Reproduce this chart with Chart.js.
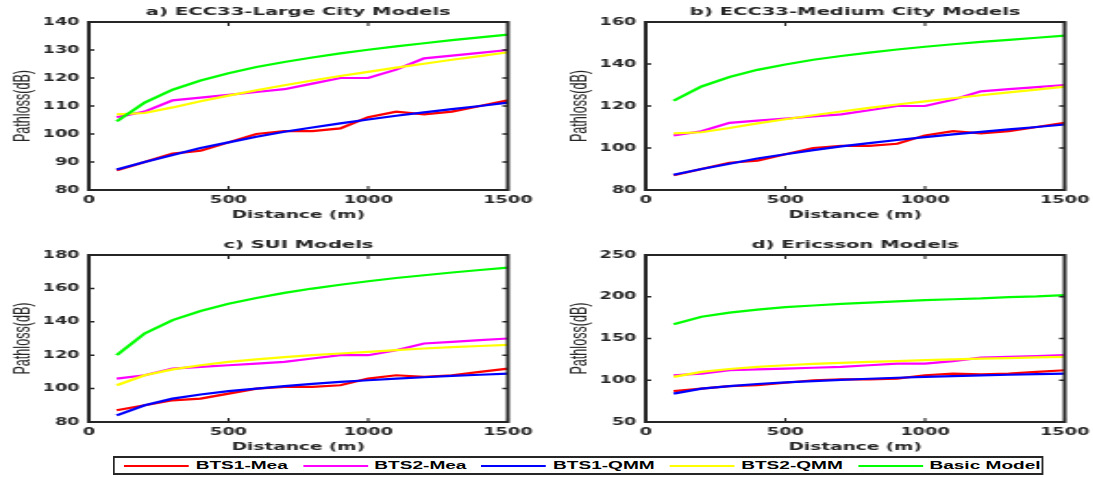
<!DOCTYPE html>
<html>
<head>
<meta charset="utf-8">
<script src="https://cdn.jsdelivr.net/npm/chart.js@4"></script>
<style>
    html, body { margin: 0; padding: 0; background: #fff; overflow: hidden; }
    /* the original figure is stretched sideways, so draw narrow and stretch it */
    #stage { position: absolute; left: 0; top: 0; width: 591px; height: 477px;
             transform: scaleX(1.85); transform-origin: 0 0; }
    #stage canvas { position: absolute; }
    #c0 { left: 0; top: 0; }
    #c1 { left: 300.6px; top: 0; }
    #c2 { left: 0; top: 233px; }
    #c3 { left: 300.6px; top: 233px; }
    .legend { position: absolute; left: 61.1px; top: 456px; width: 503px; height: 19px;
              box-sizing: border-box; border: 2px solid #262626; border-left-width: 1.6px; border-right-width: 1.6px;
              background: #fff; display: flex; align-items: center; padding-left: 4.9px;
              font: bold 10.3px "Liberation Sans", Arial, sans-serif; color: #000; white-space: nowrap; }
    .legend .item { display: flex; align-items: center; margin-right: 8px; }
    .legend .swatch { width: 35px; height: 2px; margin-right: 3.8px; }
</style>
</head>
<body>
<div id="stage">
    <canvas id="c0" width="296" height="230"></canvas>
    <canvas id="c1" width="296" height="230"></canvas>
    <canvas id="c2" width="296" height="229"></canvas>
    <canvas id="c3" width="296" height="229"></canvas>
    <div class="legend" id="legend"></div>
</div>
<script>
// distances (m)
const distances = [100, 200, 300, 400, 500, 600, 700, 800, 900, 1000, 1100, 1200, 1300, 1400, 1500];

// measured path loss, same in every panel
const bts1Mea = [87, 90, 93, 94, 97, 100, 101, 101, 102, 106, 108, 107, 108, 110, 112];
const bts2Mea = [106, 108, 112, 113, 114, 115, 116, 118, 120, 120, 123, 127, 128, 129, 130];

// a) ECC33 large city
const eccLargeQmm1 = [87.3, 90, 92.5, 95, 97, 99, 100.8, 102.3, 103.8, 105.2, 106.5, 107.7, 108.9, 110, 111.2];
const eccLargeQmm2 = [107, 107.5, 109.5, 111.7, 113.7, 115.6, 117.4, 119.1, 120.7, 122.2, 123.7, 125.1, 126.5, 127.8, 129.2];
const eccLargeBasic = [104.5, 111.2, 115.8, 119.1, 121.7, 123.9, 125.7, 127.3, 128.8, 130.1, 131.3, 132.4, 133.5, 134.5, 135.5];

// b) ECC33 medium city
const eccMediumQmm1 = [87.3, 90, 92.5, 95, 97, 99, 100.8, 102.3, 103.8, 105.2, 106.5, 107.7, 108.9, 110, 111.2];
const eccMediumQmm2 = [107, 107.5, 109.5, 111.7, 113.7, 115.6, 117.4, 119.1, 120.7, 122.2, 123.7, 125.1, 126.5, 127.8, 129.2];
const eccMediumBasic = [122.5, 129.3, 133.8, 137.2, 139.8, 142, 143.8, 145.4, 146.9, 148.2, 149.4, 150.5, 151.5, 152.5, 153.5];

// c) SUI
const suiQmm1 = [84, 90, 94, 96.5, 98.5, 100, 101.5, 102.8, 104, 105, 106, 106.8, 107.6, 108.3, 109];
const suiQmm2 = [102, 108, 111.5, 114, 116, 117.5, 118.8, 120, 121, 122, 123, 124, 124.8, 125.5, 126.2];
const suiBasic = [120, 133, 141, 146.5, 150.8, 154.3, 157.3, 159.9, 162.2, 164.3, 166.2, 167.9, 169.5, 171, 172.4];

// d) Ericsson
const ericssonQmm1 = [84, 90, 93, 95.5, 97.5, 99, 100.5, 101.8, 103, 104, 105, 105.8, 106.6, 107.3, 108];
const ericssonQmm2 = [104, 110, 113.5, 116, 118, 119.5, 120.8, 122, 123, 124, 125, 125.8, 126.6, 127.3, 128];
const ericssonBasic = [167, 176, 181, 184.5, 187.5, 189.5, 191.5, 193, 194.5, 196, 197, 198, 199.5, 200.5, 202];

// axes
const xTicks = [0, 500, 1000, 1500];
const yTicksA = [80, 90, 100, 110, 120, 130, 140];
const yTicksB = [80, 100, 120, 140, 160];
const yTicksC = [80, 100, 120, 140, 160, 180];
const yTicksD = [50, 100, 150, 200, 250];

const seriesNames = ['BTS1-Mea', 'BTS2-Mea', 'BTS1-QMM', 'BTS2-QMM', 'Basic Model'];
const seriesColors = ['#ff0000', '#ff00ff', '#0000ff', '#ffff00', '#00ff00'];

const panels = [
    { id: 'c0', title: 'a) ECC33-Large City Models', yTicks: yTicksA, series: [bts1Mea, bts2Mea, eccLargeQmm1, eccLargeQmm2, eccLargeBasic] },
    { id: 'c1', title: 'b) ECC33-Medium City Models', yTicks: yTicksB, series: [bts1Mea, bts2Mea, eccMediumQmm1, eccMediumQmm2, eccMediumBasic] },
    { id: 'c2', title: 'c) SUI Models', yTicks: yTicksC, series: [bts1Mea, bts2Mea, suiQmm1, suiQmm2, suiBasic] },
    { id: 'c3', title: 'd) Ericsson Models', yTicks: yTicksD, series: [bts1Mea, bts2Mea, ericssonQmm1, ericssonQmm2, ericssonBasic] }
];

const axisColor = '#262626';
const tickFont = { family: "'DejaVu Sans', sans-serif", size: 9.6, weight: 'bold' };

// box round the plot, inward ticks and the three texts, drawn like the original
const framePlugin = {
    id: 'frame',
    afterDraw(chart, args, opts) {
        const { ctx, chartArea: a, scales } = chart;
        ctx.save();
        ctx.strokeStyle = axisColor;
        ctx.lineWidth = 2;
        ctx.strokeRect(a.left, a.top, a.right - a.left, a.bottom - a.top);

        ctx.beginPath();
        ctx.lineWidth = 1.5;
        scales.y.ticks.forEach(t => {
            const py = scales.y.getPixelForValue(t.value);
            ctx.moveTo(a.left, py); ctx.lineTo(a.left + 3, py);
            ctx.moveTo(a.right, py); ctx.lineTo(a.right - 3, py);
        });
        ctx.stroke();
        ctx.beginPath();
        ctx.lineWidth = 1.1;
        scales.x.ticks.forEach(t => {
            const px = scales.x.getPixelForValue(t.value);
            ctx.moveTo(px, a.bottom); ctx.lineTo(px, a.bottom - 4);
            ctx.moveTo(px, a.top); ctx.lineTo(px, a.top + 4);
        });
        ctx.stroke();

        const cx = (a.left + a.right) / 2;
        ctx.fillStyle = axisColor;
        ctx.textAlign = 'center';
        ctx.textBaseline = 'middle';
        ctx.font = "bold 10.6px 'DejaVu Sans', sans-serif";
        ctx.fillText(opts.title, cx, a.top - 10);
        ctx.font = "bold 10px 'DejaVu Sans', sans-serif";
        ctx.fillText('Distance (m)', cx, a.bottom + 25);

        ctx.translate(a.left - 35, (a.top + a.bottom) / 2);
        ctx.rotate(-Math.PI / 2);
        ctx.font = "12.6px 'Liberation Sans', Arial, sans-serif";
        ctx.fillText('Pathloss(dB)', 0, 0);
        ctx.restore();
    }
};

panels.forEach(p => {
    const ctx = document.getElementById(p.id).getContext('2d');
    new Chart(ctx, {
        type: 'line',
        data: {
            datasets: p.series.map((vals, i) => ({
                label: seriesNames[i],
                data: distances.map((d, k) => ({ x: d, y: vals[k] })),
                borderColor: seriesColors[i],
                backgroundColor: seriesColors[i],
                order: seriesNames.length - i
            }))
        },
        options: {
            responsive: false,
            animation: false,
            devicePixelRatio: 1,
            layout: { padding: { top: 22, right: 21.5, left: 0, bottom: 0 } },
            elements: {
                point: { radius: 0 },
                line: { borderWidth: 2.2, tension: 0 }
            },
            plugins: {
                legend: { display: false },
                tooltip: { enabled: false },
                frame: { title: p.title }
            },
            scales: {
                x: {
                    type: 'linear',
                    min: xTicks[0],
                    max: xTicks[xTicks.length - 1],
                    afterBuildTicks: s => { s.ticks = xTicks.map(v => ({ value: v })); },
                    afterFit: s => { s.height = 40; },
                    grid: { display: false, drawTicks: false },
                    border: { display: false },
                    ticks: { padding: 5, maxRotation: 0, autoSkip: false, color: axisColor, font: tickFont,
                             callback: v => String(v) }
                },
                y: {
                    min: p.yTicks[0],
                    max: p.yTicks[p.yTicks.length - 1],
                    afterBuildTicks: s => { s.ticks = p.yTicks.map(v => ({ value: v })); },
                    afterFit: s => { s.width = 48; },
                    grid: { display: false, drawTicks: false },
                    border: { display: false },
                    ticks: { padding: 5, autoSkip: false, color: axisColor, font: tickFont,
                             callback: v => String(v) }
                }
            }
        },
        plugins: [framePlugin]
    });
});

// shared legend under the panels
const legend = document.getElementById('legend');
seriesNames.forEach((name, i) => {
    const item = document.createElement('div');
    item.className = 'item';
    item.innerHTML = `<span class="swatch" style="background:${seriesColors[i]}"></span><span>${name}</span>`;
    legend.appendChild(item);
});
</script>
</body>
</html>
